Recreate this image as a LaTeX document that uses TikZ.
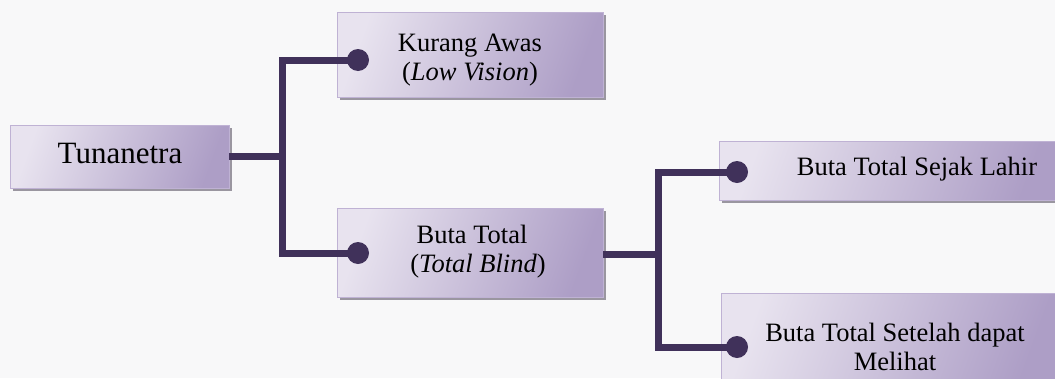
\documentclass[tikz,border=0pt]{standalone}
\usepackage{fontspec}
\setmainfont{Liberation Serif}
\definecolor{bgpaper}{HTML}{F8F8F9}
\definecolor{lavlight}{HTML}{E8E3EF}
\definecolor{lavmid}{HTML}{D6CEE3}
\definecolor{lavdark}{HTML}{AD9EC6}
\definecolor{lavedge}{HTML}{BFB2D4}
\definecolor{linkcol}{HTML}{40315A}
\definecolor{shadowcol}{HTML}{9A96A0}
\tikzset{
  box/.style={draw=lavedge, line width=1pt, left color=lavlight, middle color=lavmid, right color=lavdark, shading angle=70},
  boxshadow/.style={fill=shadowcol, draw=none},
  link/.style={draw=linkcol, line width=7pt},
  knob/.style={circle, fill=linkcol, minimum size=22pt, inner sep=0pt},
  lbl/.style={font=\fontsize{26.5}{28.5}\selectfont, align=center, inner sep=0pt},
}
\begin{document}
\begin{tikzpicture}[x=1pt, y=-1pt]
  \fill[bgpaper] (0,0) rectangle (1055,378);
  \useasboundingbox (0,0) rectangle (1055,378);

  % shadows
  \fill[boxshadow] (13,128) rectangle (232,191);
  \fill[boxshadow] (340,15) rectangle (606,100);
  \fill[boxshadow] (340,211) rectangle (606,300);
  \fill[boxshadow] (722,144) rectangle (1058,203);
  \fill[boxshadow] (724,296) rectangle (1058,381);

  % boxes
  \shade[box] (10,125) rectangle (229,188);
  \shade[box] (337,12) rectangle (603,97);
  \shade[box] (337,208) rectangle (603,297);
  \shade[box] (719,141) rectangle (1060,200);
  \shade[box] (721,293) rectangle (1060,385);

  % anchor points of the tree
  \coordinate (rootout) at (229,156);
  \coordinate (forkA) at (282,156);
  \coordinate (blindout) at (603,254);
  \coordinate (forkB) at (658,254);

  % knobs
  \node[knob] (kLow) at (358,60) {};
  \node[knob] (kBlind) at (358,253) {};
  \node[knob] (kBirth) at (737,172) {};
  \node[knob] (kAfter) at (737,347) {};

  % connectors
  \draw[link] (rootout) -- (forkA);
  \draw[link] (kLow.center) -| (forkA) |- (kBlind.center);
  \draw[link] (blindout) -- (forkB);
  \draw[link] (kBirth.center) -| (forkB) |- (kAfter.center);

  % labels (base anchor sits on the last line of each label)
  \node[lbl, font=\fontsize{31}{34}\selectfont, anchor=base] (tuna) at (120,163) {Tunanetra};
  \node[lbl, anchor=base] (low) at (470,80) {Kurang Awas\\(\textit{Low Vision})};
  \node[lbl, anchor=base] (blind) at (472,272) {Buta Total\\\hspace*{12pt}(\textit{Total Blind})};
  \node[lbl, anchor=base] (birth) at (917,175) {Buta Total Sejak Lahir};
  \node[lbl, anchor=base] (after) at (895,370) {Buta Total Setelah dapat\\Melihat};
\end{tikzpicture}
\end{document}
